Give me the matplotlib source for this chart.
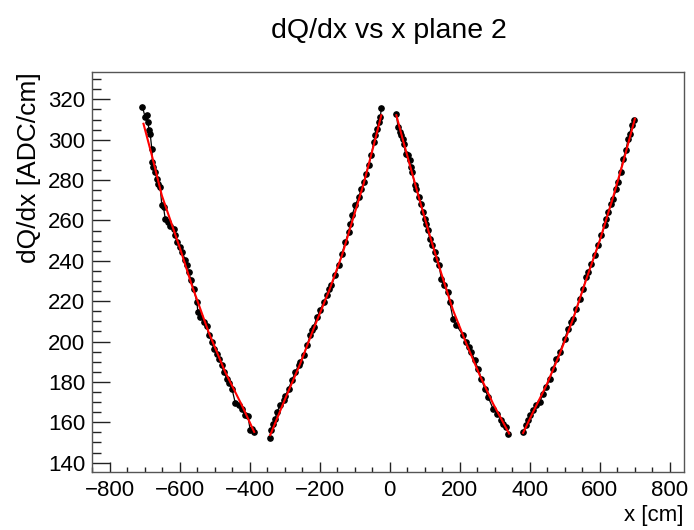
import numpy as np
import matplotlib
matplotlib.use("Agg")
import matplotlib.pyplot as plt
from matplotlib.ticker import MultipleLocator

plt.rcParams['font.family'] = ['Liberation Sans', 'DejaVu Sans']

# measured points, one array pair per track segment
x_seg1 = [-706.6, -699.0, -694.2, -691.3, -687.5, -684.6, -679.9, -678.0, -675.1, -670.3,
          -665.6, -660.8, -656.0, -651.3, -646.5, -641.7, -634.1, -627.4, -617.9, -613.1,
          -608.4, -598.8, -592.2, -584.5, -579.7, -575.0, -567.4, -560.7, -551.1, -548.3,
          -541.6, -532.1, -522.5, -517.8, -508.2, -503.5, -494.0, -489.2, -479.6, -474.9,
          -465.3, -460.6, -451.0, -441.5, -432.0, -422.4, -412.9, -405.3, -398.6, -393.8, -387.1]
y_seg1 = [316.2, 311.2, 312.0, 308.7, 304.6, 303.0, 295.5, 288.9, 286.4, 284.0,
          280.7, 278.2, 276.5, 267.5, 266.6, 260.9, 259.2, 257.2, 255.9, 252.6,
          249.3, 246.8, 244.3, 240.2, 237.7, 234.4, 230.3, 226.2, 219.6, 214.6,
          212.2, 209.7, 207.7, 203.1, 199.8, 196.5, 194.0, 191.5, 188.2, 184.9,
          181.6, 179.6, 176.7, 169.7, 168.4, 166.4, 163.4, 163.1, 156.0, 156.8, 155.2]

x_seg2 = [-343.3, -338.5, -334.7, -327.1, -322.3, -312.8, -303.3, -298.5, -289.0, -279.4,
          -269.9, -260.4, -255.6, -246.0, -236.5, -227.0, -222.2, -217.4, -207.9, -198.4,
          -188.8, -179.3, -172.6, -166.9, -155.4, -145.9, -136.4, -126.8, -117.3, -112.5,
          -107.8, -98.2, -88.7, -81.1, -74.4, -67.7, -60.1, -52.5, -45.8, -41.0,
          -36.3, -31.5, -26.7, -23.9]
y_seg2 = [152.4, 156.0, 159.3, 161.8, 165.1, 168.4, 170.9, 173.0, 176.7, 180.8,
          184.9, 188.2, 189.9, 193.2, 198.1, 203.1, 205.5, 207.2, 212.2, 215.5,
          219.6, 222.9, 226.2, 227.8, 232.8, 237.7, 243.5, 249.3, 254.3, 258.4,
          262.5, 267.5, 271.6, 275.7, 279.0, 283.1, 287.3, 292.2, 298.8, 302.1,
          305.4, 308.7, 311.2, 315.8]

x_seg3 = [18.9, 23.7, 28.5, 33.2, 38.0, 39.9, 45.6, 52.3, 57.1, 61.9,
          64.7, 71.4, 76.2, 83.8, 90.5, 95.2, 100.0, 104.8, 109.5, 114.3,
          121.9, 128.6, 133.4, 141.0, 147.7, 154.3, 166.7, 171.5, 181.0, 190.6,
          209.6, 219.2, 226.8, 233.5, 243.0, 252.5, 262.1, 271.6, 281.2, 295.5,
          306.9, 319.3, 324.1, 333.6, 338.4]
y_seg3 = [312.9, 306.3, 303.8, 302.1, 300.5, 298.0, 293.0, 292.2, 289.7, 286.4,
          284.0, 277.4, 275.7, 271.6, 268.3, 264.2, 260.9, 258.4, 255.1, 251.0,
          247.6, 244.3, 241.0, 237.7, 231.1, 227.8, 224.5, 219.6, 211.3, 208.0,
          203.1, 199.8, 197.3, 194.8, 190.7, 186.6, 181.6, 176.7, 172.5, 166.7,
          164.3, 161.0, 159.3, 157.7, 154.4]

x_seg4 = [381.3, 388.9, 395.6, 400.3, 409.9, 419.4, 428.9, 438.5, 448.0, 457.6,
          467.1, 476.6, 486.2, 500.5, 510.0, 519.6, 524.3, 533.8, 543.4, 552.9,
          562.4, 567.2, 576.7, 586.3, 595.8, 605.3, 614.9, 619.6, 624.4, 633.9,
          638.7, 648.2, 653.0, 659.7, 667.3, 675.0, 681.6, 686.4, 691.2, 697.8]
y_seg4 = [155.2, 158.5, 161.0, 163.5, 165.9, 168.4, 170.1, 174.2, 177.5, 181.6,
          186.6, 191.5, 194.8, 201.4, 206.4, 209.7, 211.3, 216.3, 221.2, 226.2,
          232.0, 234.4, 238.6, 242.7, 247.7, 252.6, 257.6, 260.9, 264.2, 268.3,
          270.8, 275.7, 279.0, 284.0, 290.6, 294.7, 300.5, 303.0, 307.1, 309.6]

# fitted curves (red)
fit_x1 = [-703.7, -679.9, -651.3, -599.0, -565.5, -517.7, -470.2, -422.5, -387.3]
fit_y1 = [307.9, 292.3, 272.4, 246.0, 227.9, 204.7, 184.9, 168.4, 155.2]
fit_x2 = [-341.5, -298.6, -255.7, -217.4, -172.7, -136.4, -107.8, -74.4, -45.8, -24.0]
fit_y2 = [153.6, 171.7, 189.0, 206.4, 225.4, 242.7, 259.2, 278.2, 297.2, 312.1]
fit_x3 = [19.0, 38.0, 61.9, 85.7, 114.4, 147.7, 181.1, 219.2, 257.4, 295.5, 341.3]
fit_y3 = [312.1, 299.7, 284.8, 270.0, 252.6, 233.6, 215.5, 198.9, 183.3, 169.2, 154.4]
fit_x4 = [381.3, 409.9, 447.9, 486.3, 524.3, 562.4, 600.7, 638.7, 667.3, 700.8]
fit_y4 = [154.7, 165.1, 178.3, 194.0, 211.3, 231.1, 250.2, 271.6, 288.9, 310.4]

fig = plt.figure(figsize=(6.94, 5.30), dpi=100)
ax = fig.add_axes([0.133, 0.110, 0.852, 0.754])

segments = [(x_seg1, y_seg1), (x_seg2, y_seg2), (x_seg3, y_seg3), (x_seg4, y_seg4)]
fits = [(fit_x1, fit_y1), (fit_x2, fit_y2), (fit_x3, fit_y3), (fit_x4, fit_y4)]

for xs, ys in segments:
    ax.plot(xs, ys, color='black', lw=0.9, marker='o', ms=3.8, mec='black', mfc='black', zorder=2)

for xs, ys in fits:
    ax.plot(xs, ys, color='red', lw=1.5, zorder=3)

ax.set_xlim(-850, 840)
ax.set_ylim(135.5, 333.5)

ax.xaxis.set_major_locator(MultipleLocator(200))
ax.xaxis.set_minor_locator(MultipleLocator(50))
ax.yaxis.set_major_locator(MultipleLocator(20))
ax.yaxis.set_minor_locator(MultipleLocator(5))

ax.tick_params(which='both', direction='in', top=False, right=False, labelsize=16, color='#222222')
ax.tick_params(axis='x', which='major', length=7.2, width=1, pad=6)
ax.tick_params(axis='x', which='minor', length=3.6, width=1)
ax.tick_params(axis='y', which='major', length=13, width=1, pad=5)
ax.tick_params(axis='y', which='minor', length=6.5, width=1)

for sp in ax.spines.values():
    sp.set_color('#555555')
    sp.set_linewidth(1)

ax.set_xlabel("x [cm]", fontsize=16, loc='right', labelpad=3)
ax.set_ylabel("dQ/dx [ADC/cm]", fontsize=19, loc='top', labelpad=5)
fig.text(0.560, 0.942, "dQ/dx vs x plane 2", fontsize=20.5, ha='center', va='center')

fig.savefig("out.png", dpi=100)
